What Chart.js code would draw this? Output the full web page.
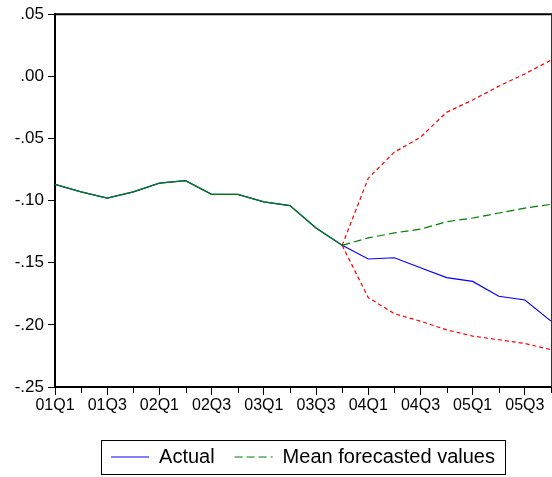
<!DOCTYPE html>
<html>
<head>
<meta charset="utf-8">
<script src="https://cdn.jsdelivr.net/npm/chart.js@4"></script>
<style>
  html, body { margin: 0; padding: 0; background: #fff; }
  #wrap { width: 552px; height: 477px; }
</style>
</head>
<body>
<div id="wrap"><canvas id="chart" width="552" height="477"></canvas></div>
<script>
// quarters 2001Q1 .. 2005Q4
const QUARTERS = ['01Q1', '01Q2', '01Q3', '01Q4', '02Q1', '02Q2', '02Q3', '02Q4',
                  '03Q1', '03Q2', '03Q3', '03Q4', '04Q1', '04Q2', '04Q3', '04Q4',
                  '05Q1', '05Q2', '05Q3', '05Q4'];

const ACTUAL  = [-0.087, -0.093, -0.098, -0.093, -0.086, -0.084, -0.095, -0.095,
                 -0.101, -0.104, -0.122, -0.136, -0.147, -0.146, -0.154, -0.162,
                 -0.165, -0.177, -0.180, -0.197];

const MEAN_FC = [-0.087, -0.093, -0.098, -0.093, -0.086, -0.084, -0.095, -0.095,
                 -0.101, -0.104, -0.122, -0.136, -0.130, -0.126, -0.123, -0.117,
                 -0.114, -0.110, -0.106, -0.103];

// forecast band, only from 03Q4 on
const UPPER = [null, null, null, null, null, null, null, null, null, null, null,
               -0.136, -0.082, -0.061, -0.049, -0.029, -0.019, -0.008, 0.002, 0.013];
const LOWER = [null, null, null, null, null, null, null, null, null, null, null,
               -0.136, -0.178, -0.191, -0.197, -0.204, -0.209, -0.212, -0.215, -0.220];

const Y_MIN = -0.25, Y_MAX = 0.05, Y_STEP = 0.05;
const FC_START = 11;   // index of 03Q4

const FONT = '"Liberation Sans", Arial, sans-serif';

// ".05", "-.10" style like EViews
function fmtTick(v) {
  if (Math.abs(v) < 1e-9) v = 0;
  return v.toFixed(2).replace(/^(-?)0\./, '$1.');
}

// top/right frame, minor x ticks and the box round the legend
const framePlugin = {
  id: 'frame',
  afterDraw(chart) {
    const { ctx, chartArea: a } = chart;
    const x = chart.scales.x;
    ctx.save();
    ctx.strokeStyle = '#000';
    ctx.lineWidth = 2;
    ctx.beginPath();
    ctx.moveTo(a.left, a.top);
    ctx.lineTo(a.right + 1, a.top);
    ctx.stroke();

    ctx.lineWidth = 1;
    ctx.strokeStyle = '#333';
    ctx.beginPath();
    ctx.moveTo(a.right + 0.5, a.top);
    ctx.lineTo(a.right + 0.5, a.bottom);
    ctx.stroke();

    ctx.strokeStyle = '#000';
    ctx.beginPath();
    for (let i = 1; i < QUARTERS.length; i += 2) {
      const px = Math.round(x.getPixelForTick(i)) + 0.5;
      ctx.moveTo(px, a.bottom);
      ctx.lineTo(px, a.bottom + 6);
    }
    ctx.stroke();

    const boxes = chart.legend.legendHitBoxes;
    if (boxes && boxes.length) {
      const l = Math.min(...boxes.map(b => b.left)) - 10;
      const r = Math.max(...boxes.map(b => b.left + b.width)) + 10;
      const t = Math.min(...boxes.map(b => b.top)) - 7;
      const btm = Math.max(...boxes.map(b => b.top + b.height)) + 7;
      ctx.strokeStyle = '#000';
      ctx.lineWidth = 1;
      ctx.strokeRect(Math.round(l) + 0.5, Math.round(t) + 0.5, Math.round(r - l), Math.round(btm - t));
    }
    ctx.restore();
  }
};

// default labels, but keep the dataset dash for the line sample
function legendLabels(chart) {
  return Chart.defaults.plugins.legend.labels.generateLabels(chart).map(item => {
    item.lineDash = chart.data.datasets[item.datasetIndex].borderDash || [];
    return item;
  });
}

new Chart(document.getElementById('chart'), {
  type: 'line',
  data: {
    labels: QUARTERS,
    datasets: [
      {
        label: 'Actual',
        data: ACTUAL,
        borderColor: '#0000ff',
        backgroundColor: '#0000ff',
        borderWidth: 1.2,
        order: 1,
      },
      {
        label: 'Mean forecasted values',
        data: MEAN_FC,
        borderColor: '#008000',
        backgroundColor: '#008000',
        borderWidth: 1.2,
        borderDash: [8, 4],
        segment: { borderDash: ctx => ctx.p0DataIndex < FC_START ? [] : undefined },
        order: 0,
      },
      {
        label: 'upper',
        data: UPPER,
        borderColor: '#ff0000',
        backgroundColor: '#ff0000',
        borderWidth: 1.2,
        borderDash: [4, 3],
        order: 2,
      },
      {
        label: 'lower',
        data: LOWER,
        borderColor: '#ff0000',
        backgroundColor: '#ff0000',
        borderWidth: 1.2,
        borderDash: [4, 3],
        order: 3,
      },
    ],
  },
  options: {
    responsive: false,
    animation: false,
    elements: { point: { radius: 0 }, line: { tension: 0 } },
    layout: { padding: { top: 14, right: 1, bottom: 0, left: 0 } },
    plugins: {
      tooltip: { enabled: false },
      legend: {
        position: 'bottom',
        fullSize: false,
        maxHeight: 50,
        labels: {
          color: '#000',
          font: { family: FONT, size: 20 },
          usePointStyle: true,
          pointStyle: 'line',
          pointStyleWidth: 38,
          boxHeight: 2,
          padding: 20,
          generateLabels: legendLabels,
          filter: item => item.datasetIndex < 2,
          sort: (a, b) => a.datasetIndex - b.datasetIndex,
        },
      },
    },
    scales: {
      x: {
        offset: false,
        afterFit: s => { s.height = 40; },
        ticks: {
          autoSkip: false,
          maxRotation: 0,
          color: '#000',
          font: { family: FONT, size: 16 },
          padding: 1,
          callback: (v, i) => (i % 2 === 0 ? QUARTERS[i] : ''),
        },
        grid: {
          drawOnChartArea: false,
          tickLength: 8,
          tickColor: ctx => (ctx.index % 2 === 0 ? '#000' : 'rgba(0,0,0,0)'),
        },
        border: { color: '#000', width: 2 },
      },
      y: {
        min: Y_MIN,
        max: Y_MAX,
        afterFit: s => { s.width = 55; },
        ticks: {
          stepSize: Y_STEP,
          color: '#000',
          font: { family: FONT, size: 17 },
          padding: 4,
          callback: v => fmtTick(v),
        },
        grid: { drawOnChartArea: false, tickLength: 7, tickColor: '#000' },
        border: { color: '#000', width: 2 },
      },
    },
  },
  plugins: [framePlugin],
});
</script>
</body>
</html>
